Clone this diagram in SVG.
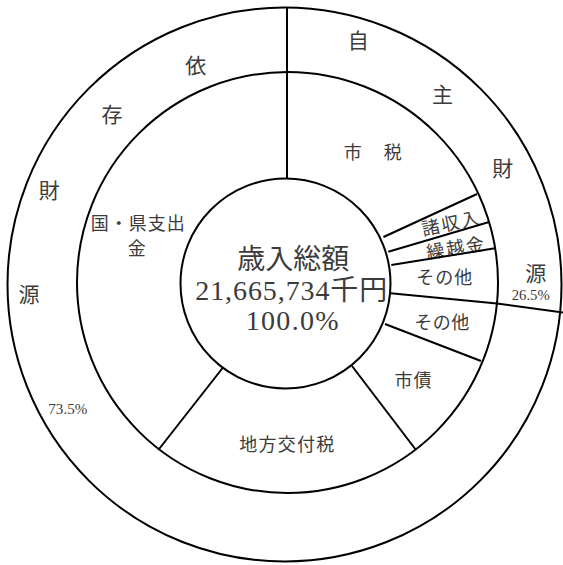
<svg xmlns="http://www.w3.org/2000/svg" width="563" height="565" viewBox="0 0 563 565">
<style>
.ring{fill:none;stroke:#000;stroke-width:2}
.ln{stroke:#000;stroke-width:2;fill:none;stroke-linecap:butt}
text{font-family:"Noto Sans CJK JP",sans-serif;fill:#3c3c3c;text-anchor:middle;dominant-baseline:central}
.big{font-size:21px}
.lbl{font-size:18px}
.pct{font-family:"Liberation Serif","Noto Sans CJK JP",serif;font-size:15px}
.ctr{font-family:"Liberation Serif","Noto Sans CJK JP",serif;font-size:28px}
</style>
<rect width="563" height="565" fill="#fff"/>
<g id="outer-ring">
<circle class="ring" cx="284.5" cy="284.5" r="277"/>
</g>
<g id="jishu-zaigen">
<text class="big" x="358.3" y="39">自</text>
<text class="big" x="442.4" y="92.6">主</text>
<text class="big" x="502.7" y="167">財</text>
<text class="big" x="535.7" y="271.7">源</text>
<text class="pct" x="530.7" y="295" textLength="38" lengthAdjust="spacingAndGlyphs">26.5%</text>
</g>
<g id="izon-zaigen">
<text class="big" x="195.7" y="63.9">依</text>
<text class="big" x="112" y="113.1">存</text>
<text class="big" x="49.2" y="188.5">財</text>
<text class="big" x="29" y="293.3">源</text>
<text class="pct" x="67.8" y="409.2" textLength="39" lengthAdjust="spacingAndGlyphs">73.5%</text>
</g>
<g id="middle-ring">
<circle class="ring" cx="287.5" cy="282.5" r="210.5"/>
</g>
<g id="shizei">
<text class="lbl" x="372.7" y="151" textLength="58">市　税</text>
</g>
<g id="shoshunyu">
<text class="lbl" transform="rotate(-12 450 222)" x="450" y="222" textLength="58">諸収入</text>
</g>
<g id="kurikoshikin">
<text class="lbl" transform="rotate(-9 455 246.5)" x="455" y="246.5" textLength="58">繰越金</text>
</g>
<g id="sonota-jishu">
<text class="lbl" x="444.2" y="275.8" textLength="56">その他</text>
</g>
<g id="sonota-izon">
<text class="lbl" x="441.7" y="320.8" textLength="55">その他</text>
</g>
<g id="shisai">
<text class="lbl" x="413" y="379.3" textLength="37">市債</text>
</g>
<g id="chihou-koufuzei">
<text class="lbl" x="286.7" y="443.3" textLength="95">地方交付税</text>
</g>
<g id="kuni-ken-shishutsukin">
<text class="lbl" x="137.8" y="221.7" textLength="94">国・県支出</text>
<text class="lbl" x="136.7" y="246.7">金</text>
</g>
<g id="center">
<circle class="ring" cx="285.5" cy="283.5" r="105"/>
<text class="ctr" x="293.3" y="259.8" textLength="112">歳入総額</text>
<text class="ctr" x="291.3" y="290.8" textLength="192">21,665,734千円</text>
<text class="ctr" x="292.2" y="320" textLength="93">100.0%</text>
</g>
<g id="connectors">
<line class="ln" x1="287" y1="7.5" x2="287" y2="178.5"/>
<line class="ln" x1="383.5" y1="237" x2="477" y2="194"/>
<line class="ln" x1="388.3" y1="251.7" x2="488.3" y2="222.3"/>
<line class="ln" x1="391.3" y1="265" x2="495" y2="248.3"/>
<line class="ln" x1="390.5" y1="293.3" x2="497" y2="303.5"/>
<line class="ln" x1="497" y1="303.5" x2="563" y2="312.5"/>
<line class="ln" x1="385" y1="324" x2="481" y2="361"/>
<line class="ln" x1="352" y1="366" x2="416" y2="450"/>
<line class="ln" x1="222.6" y1="368" x2="158.3" y2="450"/>
</g>
</svg>
